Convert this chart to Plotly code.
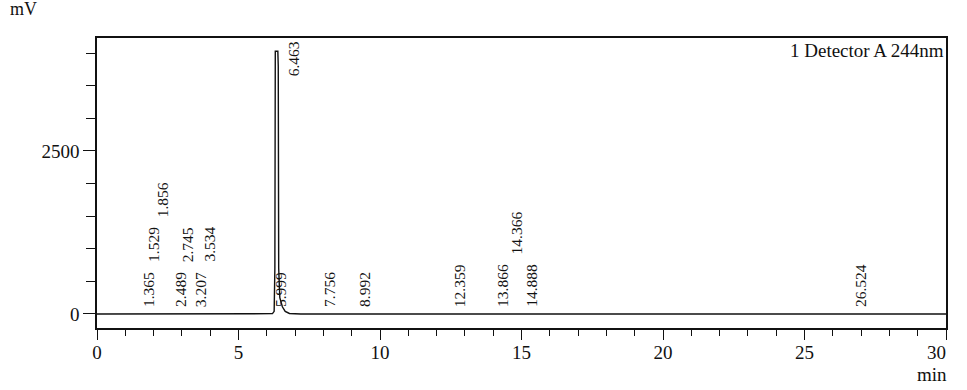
import numpy as np
import plotly.graph_objects as go

# ---- data ----
time_min = [0.0, 5.90, 6.20, 6.26, 6.285, 6.30, 6.39, 6.405, 6.42, 6.46, 6.55, 6.65, 6.80, 7.20, 30.0]
signal_mv = [0, 0, 5, 40, 700, 4030, 4030, 3800, 700, 250, 110, 40, 8, 0, 0]

peak_rt = [1.365, 1.529, 1.856, 2.489, 2.745, 3.207, 3.534, 5.999, 6.463,
           7.756, 8.992, 12.359, 13.866, 14.366, 14.888, 26.524]

x_tick_vals = [0, 5, 10, 15, 20, 25, 30]
x_tick_text = ["0", "5", "10", "15", "20", "25", "30"]
x_minor_vals = list(range(0, 31))
y_tick_vals = [0, 2500]
y_tick_text = ["0", "2500"]
y_minor_vals = [0, 500, 1000, 1500, 2000, 2500, 3000, 3500, 4000]

x_range = [0, 30]
y_range = [-215, 4233]
detector_label = "1 Detector A 244nm"
y_unit = "mV"
x_unit = "min"

# ---- layout constants ----
W, H = 967, 390
ML, MR, MT, MB = 97, 21, 38, 62
PLOT_W = W - ML - MR
PLOT_H = H - MT - MB
FONT = "Liberation Serif, Times New Roman, serif"
INK = "#111111"
LABEL_SIZE = 15.5
NBSP = "\u00a0"

fig = go.Figure()
fig.add_trace(go.Scatter(x=time_min, y=signal_mv, mode="lines",
                         line=dict(color=INK, width=1.4), hoverinfo="skip",
                         showlegend=False))

# ---- peak labels: stacked so that they do not overlap ----
px_per_min = PLOT_W / (x_range[1] - x_range[0])
px_per_mv = PLOT_H / (y_range[1] - y_range[0])
t_arr = np.array(time_min)
s_arr = np.array(signal_mv)


def text_len(s):
    return sum(0.25 if c == "." else 0.5 for c in s) * LABEL_SIZE


placed = []
top_limit = y_range[1] * px_per_mv - 4
for rt in peak_rt:
    s = f"{rt:.3f}"
    x = rt * px_per_min
    L = text_len(s)
    win = np.linspace(rt - 0.12, rt + 0.12, 49)
    h = max(float(np.max(np.interp(win, t_arr, s_arr))), 0) * px_per_mv
    bottom = h + 6
    moved = True
    while moved:
        moved = False
        for (xj, bj, tj) in placed:
            if abs(x - xj) < 17 and bottom < tj + 1 and bottom + L > bj - 1:
                bottom = tj + 10
                moved = True
    if bottom + L > top_limit:
        bottom = top_limit - L
    placed.append((x, bottom, bottom + L))
    fig.add_annotation(x=rt, y=0, xref="x", yref="y", text=s, showarrow=False,
                       textangle=-90, xanchor="center", yanchor="bottom",
                       xshift=13, yshift=bottom, borderpad=0,
                       font=dict(family=FONT, size=LABEL_SIZE, color=INK))

fig.add_annotation(x=1, y=1, xref="paper", yref="paper", text=detector_label,
                   showarrow=False, xanchor="right", yanchor="top", xshift=-1,
                   yshift=-1, borderpad=0,
                   font=dict(family=FONT, size=19, color=INK))
fig.add_annotation(x=-0.0866, y=1.10, xref="paper", yref="paper", text=y_unit,
                   showarrow=False, xanchor="center", yanchor="middle",
                   font=dict(family=FONT, size=18, color=INK))
fig.add_annotation(x=0.9835, y=-0.16, xref="paper", yref="paper", text=x_unit,
                   showarrow=False, xanchor="center", yanchor="middle",
                   font=dict(family=FONT, size=19, color=INK))

axis_common = dict(showline=True, mirror=True, linecolor=INK, linewidth=1.5,
                   showgrid=False, zeroline=False, ticks="outside",
                   tickcolor=INK, tickwidth=1.3, tickmode="array",
                   automargin=False,
                   tickfont=dict(family=FONT, size=19, color=INK))

# last x label is right-aligned at its tick, as in the printout
x_text_shown = [t if v != x_range[1] else t + NBSP * 4
                for v, t in zip(x_tick_vals, x_tick_text)]

fig.update_xaxes(range=x_range, tickvals=x_tick_vals, ticktext=x_text_shown,
                 ticklen=10, ticklabelstandoff=-4,
                 minor=dict(tickmode="array", tickvals=x_minor_vals, ticklen=6,
                            ticks="outside", tickcolor=INK, tickwidth=1.3,
                            showgrid=False),
                 **axis_common)
fig.update_yaxes(range=y_range, tickvals=y_tick_vals, ticktext=y_tick_text,
                 ticklen=12,
                 minor=dict(tickmode="array", tickvals=y_minor_vals, ticklen=9,
                            ticks="outside", tickcolor=INK, tickwidth=1.3,
                            showgrid=False),
                 **axis_common)

fig.update_layout(width=W, height=H, margin=dict(l=ML, r=MR, t=MT, b=MB),
                  paper_bgcolor="white", plot_bgcolor="white",
                  showlegend=False)

fig.write_html("out.html")
